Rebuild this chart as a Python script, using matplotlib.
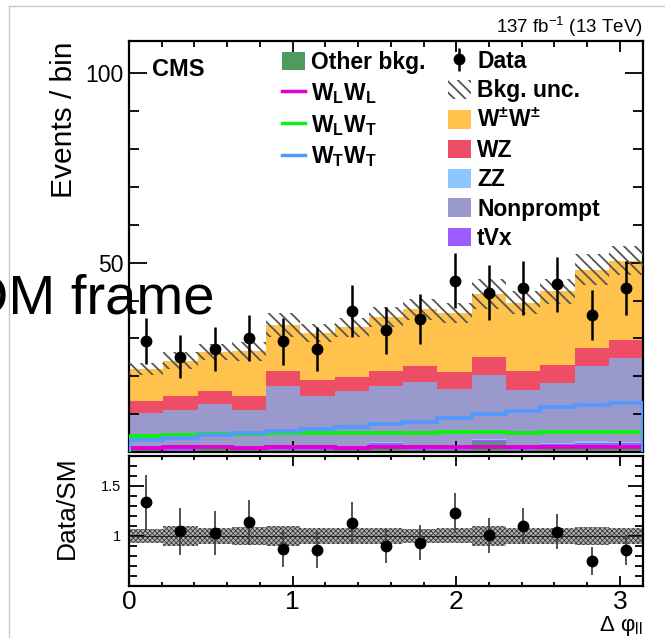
import matplotlib as mpl
import matplotlib.pyplot as plt
import numpy as np
from matplotlib.patches import Patch
from matplotlib.lines import Line2D
from matplotlib.ticker import MultipleLocator

plt.rcParams['font.family'] = ['Liberation Sans', 'DejaVu Sans']
plt.rcParams['mathtext.fontset'] = 'custom'
plt.rcParams['mathtext.rm'] = 'Liberation Sans'
plt.rcParams['mathtext.it'] = 'Liberation Sans:italic'
plt.rcParams['mathtext.bf'] = 'Liberation Sans:bold'

# 15 bins in delta phi_ll from 0 to pi
n_bins = 15
edges = np.linspace(0, np.pi, n_bins + 1)
centers = 0.5 * (edges[:-1] + edges[1:])

# observed events and their uncertainties
data = [29.3, 25.2, 27.2, 30.2, 29.2, 27.1, 37.2, 32.1, 35.1, 45.2, 42.1, 43.2, 44.3, 36.1, 43.2]
data_err = [6.0, 5.7, 5.8, 6.1, 6.1, 5.8, 6.9, 6.2, 6.6, 7.3, 7.2, 7.1, 7.3, 6.6, 7.1]

# stacked backgrounds (bottom -> top)
other_bkg = [0.5, 0.4, 0.9, 0.6, 0.6, 0.5, 0.6, 1.8, 0.6, 0.5, 2.6, 0.6, 1.0, 1.2, 1.0]
tvx = [0.5, 0.5, 0.6, 0.5, 0.6, 0.5, 0.6, 0.5, 0.7, 0.7, 0.5, 0.9, 1.0, 1.3, 1.3]
zz = [0.3, 0.3, 0.4, 0.3, 0.4, 0.3, 0.4, 0.3, 0.4, 0.4, 0.3, 0.4, 0.4, 0.5, 0.4]
nonprompt = [8.9, 9.9, 10.8, 9.7, 15.7, 13.6, 14.4, 14.7, 16.9, 15.1, 17.0, 14.4, 15.8, 19.8, 22.2]
wz = [3.3, 3.7, 3.5, 3.7, 4.2, 4.2, 3.9, 4.2, 4.2, 4.3, 4.6, 5.0, 4.9, 4.7, 4.8]
wpmwpm = [8.4, 9.3, 10.2, 11.8, 12.1, 12.4, 13.0, 14.2, 14.9, 15.7, 16.8, 18.1, 19.3, 20.6, 20.8]
bkg_unc = [1.6, 2.3, 2.0, 2.5, 3.2, 2.4, 2.5, 2.7, 2.8, 2.75, 4.0, 3.0, 3.2, 4.1, 3.8]

# polarized W+-W+- components (drawn as lines, not stacked)
wlwl = [1.1, 1.2, 1.2, 1.1, 1.2, 1.2, 1.1, 1.2, 1.2, 1.3, 1.2, 1.2, 1.2, 1.3, 1.3]
wlwt = [4.2, 4.4, 4.7, 4.8, 5.0, 5.1, 5.1, 5.1, 5.1, 5.2, 5.2, 5.1, 5.3, 5.4, 5.3]
wtwt = [3.1, 3.8, 4.4, 5.0, 5.6, 6.0, 6.6, 7.3, 8.0, 8.9, 10.0, 10.9, 11.8, 12.3, 12.9]

c_other = '#4f9a5d'
c_tvx = '#9c5cff'
c_zz = '#8cc8ff'
c_np = '#9999cc'
c_wz = '#ee4d66'
c_ww = '#ffc34d'
c_wlwl = '#e000d0'
c_wlwt = '#11ee11'
c_wtwt = '#5599ff'

fig = plt.figure(figsize=(6.65, 6.38), dpi=100)
ax = fig.add_axes([0.194, 0.2915, 0.773, 0.6442])
rax = fig.add_axes([0.194, 0.0815, 0.773, 0.2038])

# --- upper panel ---
bottom = np.zeros(n_bins)
for vals, col in [(other_bkg, c_other), (tvx, c_tvx), (zz, c_zz),
                  (nonprompt, c_np), (wz, c_wz), (wpmwpm, c_ww)]:
    top = bottom + np.array(vals)
    ax.stairs(top, edges, baseline=bottom.copy(), fill=True, color=col, lw=0)
    bottom = top
total = bottom
unc = np.array(bkg_unc)

mpl.rcParams['hatch.linewidth'] = 1.3
ax.stairs(total + unc, edges, baseline=total - unc, fill=True, facecolor='none',
          edgecolor='#555555', hatch='\\\\\\', lw=0, zorder=3)

for vals, col in [(wlwl, c_wlwl), (wlwt, c_wlwt), (wtwt, c_wtwt)]:
    ax.stairs(vals, edges, color=col, lw=2.8, zorder=4)

data_h = ax.errorbar(centers, data, yerr=data_err, fmt='o', color='black',
                     ms=7.5, elinewidth=1.8, capsize=0, zorder=5)

ax.set_xlim(0, np.pi)
ax.set_ylim(0, 108.5)
ax.set_yticks([0, 50, 100])
ax.set_yticklabels(['', '50', '100'])
ax.yaxis.set_minor_locator(MultipleLocator(10))
ax.xaxis.set_major_locator(MultipleLocator(1))
ax.xaxis.set_minor_locator(MultipleLocator(0.2))
ax.tick_params(axis='both', which='both', direction='in', top=True, right=True,
               width=1.3, labelbottom=False)
ax.tick_params(axis='y', which='major', length=13, labelsize=16.5, pad=4)
ax.tick_params(axis='y', which='minor', length=7)
ax.tick_params(axis='x', which='major', length=8)
ax.tick_params(axis='x', which='minor', length=4)
for s in ax.spines.values():
    s.set_linewidth(1.6)

ax.text(0.044, 0.93, 'CMS', transform=ax.transAxes, fontsize=17,
        fontweight='bold', va='center', ha='left')

# legend, two columns
leg_kw = dict(frameon=False, handlelength=1.0, handleheight=0.87,
              handletextpad=0.27, borderaxespad=0, borderpad=0, loc='upper left',
              prop={'weight': 'bold', 'size': 16.5}, bbox_transform=fig.transFigure)
left_handles = [Patch(facecolor=c_other, edgecolor='none'),
                Line2D([], [], color=c_wlwl, lw=2.5),
                Line2D([], [], color=c_wlwt, lw=2.5),
                Line2D([], [], color=c_wtwt, lw=2.5)]
left_labels = ['Other bkg.', r'$\mathbf{W_L W_L}$', r'$\mathbf{W_L W_T}$',
               r'$\mathbf{W_T W_T}$']
leg1 = ax.legend(left_handles, left_labels, bbox_to_anchor=(282 / 665, 1 - 51 / 638),
                 labelspacing=0.3, **leg_kw)
ax.add_artist(leg1)

right_handles = [data_h,
                 Patch(facecolor='none', edgecolor='#555555', hatch='\\\\\\', lw=0),
                 Patch(facecolor=c_ww, edgecolor='none'),
                 Patch(facecolor=c_wz, edgecolor='none'),
                 Patch(facecolor=c_zz, edgecolor='none'),
                 Patch(facecolor=c_np, edgecolor='none'),
                 Patch(facecolor=c_tvx, edgecolor='none')]
right_labels = ['Data', 'Bkg. unc.', r'$\mathbf{W^{\pm}W^{\pm}}$', 'WZ', 'ZZ',
                'Nonprompt', 'tVx']
ax.legend(right_handles, right_labels, bbox_to_anchor=(448 / 665, 1 - 50 / 638),
          labelspacing=0.28, **leg_kw)

ax.set_ylabel('Events / bin', fontsize=21.5, loc='top')
ax.yaxis.set_label_coords(-0.1, 1.0)

# --- ratio panel ---
ratio = np.array(data) / total
ratio_err = np.array(data_err) / total
rel = unc / total

mpl.rcParams['hatch.linewidth'] = 0.6
rax.stairs(1 + rel, edges, baseline=1 - rel, fill=True, facecolor='#b4b4b4',
           edgecolor='#3a3a3a', hatch='xxxxxxx', lw=0, zorder=1)
rax.axhline(1, color='#222222', lw=0.8, zorder=2)
rax.errorbar(centers, ratio, yerr=ratio_err, fmt='o', color='black',
             ecolor='#444444', ms=7.5, elinewidth=1.3, capsize=0, zorder=3)

rax.set_xlim(0, np.pi)
rax.set_ylim(0.5, 1.8)
rax.set_yticks([1.0, 1.5])
rax.set_yticklabels(['1', '1.5'])
rax.yaxis.set_minor_locator(MultipleLocator(0.1))
rax.xaxis.set_major_locator(MultipleLocator(1))
rax.xaxis.set_minor_locator(MultipleLocator(0.2))
rax.tick_params(axis='both', which='both', direction='in', top=True, right=True,
                width=1.3)
rax.tick_params(axis='y', which='major', length=11, labelsize=10.5, pad=6)
rax.tick_params(axis='y', which='minor', length=6)
rax.tick_params(axis='x', which='major', length=7, labelsize=19, pad=3)
rax.tick_params(axis='x', which='minor', length=3)
for s in rax.spines.values():
    s.set_linewidth(1.6)

rax.set_ylabel('Data/SM', fontsize=19)
rax.yaxis.set_label_coords(-0.097, 0.6)
rax.set_xlabel('Δ φ$_{\\mathrm{ll}}$', fontsize=16, ha='right', va='baseline')
rax.xaxis.set_label_coords(1.0, -0.345)

fig.text(643 / 665, 1 - 33 / 638, r'137 fb$^{-1}$ (13 TeV)', fontsize=13.5,
         ha='right', va='baseline')

# overlay caption running off the left edge
fig.text(214 / 665, 1 - 313 / 638, 'COM frame', fontsize=40.5, ha='right',
         va='baseline', zorder=10)

# thin grey page border
fig.add_artist(Line2D([9 / 665, 9 / 665], [0, 1 - 6 / 638], color='#c8c8c8', lw=1))
fig.add_artist(Line2D([9 / 665, 1], [1 - 6 / 638, 1 - 6 / 638], color='#c8c8c8', lw=1))

fig.savefig('out.png', dpi=100)
